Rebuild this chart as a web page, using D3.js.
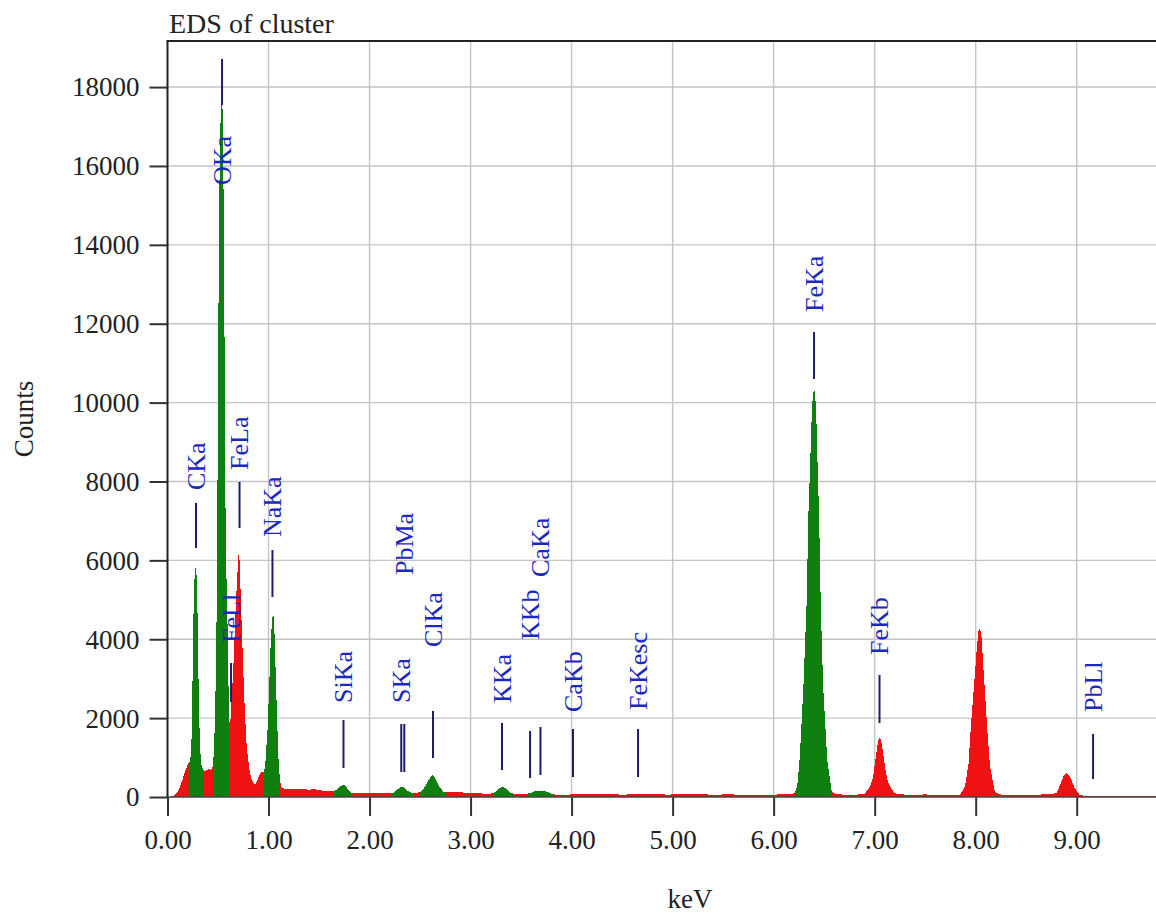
<!DOCTYPE html>
<html>
<head>
<meta charset="utf-8">
<script src="https://cdn.jsdelivr.net/npm/d3@7/dist/d3.min.js"></script>
<style>
  html, body { margin: 0; padding: 0; background: #fff; }
  svg { display: block; }
  text { font-family: "Liberation Serif", "Times New Roman", serif; }
</style>
</head>
<body>
<svg id="chart" width="1156" height="916"></svg>
<script>
// EDS spectrum: [energy keV, counts]
const spectrum = [
  [0.00, 0], [0.02, 0], [0.05, 20], [0.074, 50], [0.10, 140], [0.124, 260], [0.15, 450],
  [0.173, 640], [0.19, 760], [0.206, 850],
  [0.225, 900], [0.236, 1300], [0.244, 2130], [0.252, 3900], [0.26, 5000], [0.27, 5700],
  [0.282, 5880], [0.29, 5500], [0.297, 4660], [0.305, 3300], [0.313, 2130], [0.322, 1300],
  [0.332, 850], [0.35, 720], [0.371, 640],
  [0.39, 680], [0.41, 720], [0.43, 660], [0.45, 800], [0.46, 1190], [0.47, 2000], [0.48, 3300],
  [0.49, 5500], [0.50, 10500], [0.51, 14500], [0.52, 16800], [0.53, 17400], [0.538, 17720],
  [0.548, 17300], [0.556, 15000], [0.566, 11000], [0.575, 7000], [0.585, 5400], [0.595, 4300],
  [0.604, 2800], [0.612, 1870],
  [0.625, 2000], [0.64, 2700], [0.652, 3300], [0.667, 4300], [0.685, 5330], [0.70, 6000],
  [0.708, 6370], [0.72, 5500], [0.734, 4400], [0.751, 3140], [0.767, 2100], [0.784, 1280],
  [0.81, 700], [0.833, 430], [0.866, 300], [0.89, 420], [0.916, 600], [0.935, 650], [0.955, 620],
  [0.97, 900], [0.99, 1700], [1.005, 2700], [1.02, 3800], [1.035, 4500], [1.048, 4660],
  [1.06, 4100], [1.075, 2800], [1.09, 1600], [1.10, 900], [1.114, 400], [1.13, 250],
  [1.16, 210], [1.2, 200], [1.25, 215], [1.3, 190], [1.35, 200], [1.4, 185], [1.45, 200],
  [1.5, 170], [1.55, 160], [1.6, 150], [1.64, 150],
  [1.67, 180], [1.70, 250], [1.73, 300], [1.76, 290], [1.79, 180], [1.82, 110],
  [1.9, 100], [2.0, 95], [2.1, 90], [2.2, 100],
  [2.24, 110], [2.28, 200], [2.31, 260], [2.34, 240], [2.38, 150], [2.42, 100], [2.47, 110],
  [2.52, 150], [2.56, 300], [2.60, 500], [2.625, 560], [2.65, 470], [2.69, 260], [2.73, 140],
  [2.77, 120], [2.85, 125], [2.95, 110], [3.05, 95], [3.15, 85], [3.22, 90],
  [3.26, 150], [3.29, 230], [3.32, 262], [3.35, 220], [3.39, 120], [3.43, 75], [3.5, 75], [3.56, 80],
  [3.60, 110], [3.63, 140], [3.67, 160], [3.72, 155], [3.76, 130], [3.80, 80], [3.85, 55],
  [3.95, 60], [4.05, 70], [4.2, 65], [4.35, 75], [4.5, 60], [4.65, 70], [4.8, 80], [4.95, 60],
  [5.1, 75], [5.25, 70], [5.4, 60], [5.55, 65], [5.7, 60], [5.85, 55], [6.0, 60], [6.1, 70], [6.18, 85],
  [6.21, 100], [6.235, 300], [6.26, 1050], [6.295, 2800], [6.327, 4930], [6.344, 7140], [6.36, 8340],
  [6.38, 9910], [6.40, 10410], [6.42, 9910], [6.436, 8340], [6.45, 7140], [6.466, 4930], [6.49, 2800],
  [6.53, 960], [6.575, 130], [6.62, 70],
  [6.7, 60], [6.8, 55], [6.9, 80],
  [6.95, 250], [6.985, 500], [7.01, 1000], [7.036, 1445], [7.053, 1513], [7.07, 1360], [7.09, 1000],
  [7.11, 650], [7.13, 400], [7.16, 230], [7.2, 94], [7.3, 60],
  [7.4, 55], [7.5, 65], [7.6, 55], [7.7, 60], [7.8, 55], [7.845, 60],
  [7.894, 262], [7.93, 854], [7.95, 1700], [7.983, 2810], [8.01, 3730], [8.026, 4190], [8.043, 4280],
  [8.06, 4010], [8.076, 3270], [8.093, 2620], [8.115, 1700], [8.142, 775], [8.19, 130], [8.25, 60],
  [8.4, 55], [8.55, 60], [8.7, 65], [8.8, 95], [8.835, 300], [8.875, 560], [8.90, 616], [8.934, 515],
  [8.98, 220], [9.03, 50], [9.1, 25], [9.3, 30], [9.5, 25], [9.7, 30], [9.8, 25]
];

// Energy windows of identified peaks (drawn green)
const roiWindows = [
  [0.21, 0.36], [0.46, 0.612], [0.955, 1.114], [1.645, 1.82], [2.22, 2.43],
  [2.50, 2.76], [3.23, 3.42], [3.57, 3.82], [6.21, 6.575]
];

// Element line markers
const lineNames   = ["CKa", "OKa", "FeLl", "FeLa", "NaKa", "SiKa", "SKa", "PbMa", "ClKa",
                     "KKa", "KKb", "CaKa", "CaKb", "FeKesc", "FeKa", "FeKb", "PbLl"];
const lineEnergy  = [0.282, 0.540, 0.629, 0.713, 1.039, 1.742, 2.314, 2.344, 2.628,
                     3.311, 3.589, 3.692, 4.014, 4.658, 6.400, 7.048, 9.162];
const markerLow   = [6313, 17546, 2409, 6821, 5071, 735, 634, 634, 989,
                     685, 482, 558, 507, 507, 10598, 1876, 456];
const markerHigh  = [7454, 18712, 3398, 7987, 6263, 1952, 1851, 1851, 2181,
                     1876, 1673, 1775, 1724, 1724, 11790, 3093, 1597];
const labelBase   = [7784, 15517, 3905, 8291, 6592, 2383, 2383, 5629, 3803,
                     2383, 3981, 5578, 2155, 2206, 12297, 3600, 2155];

const xTicks = [0, 1, 2, 3, 4, 5, 6, 7, 8, 9];
const yTicks = [0, 2000, 4000, 6000, 8000, 10000, 12000, 14000, 16000, 18000];

const W = 1156, H = 916;
const plot = { left: 167.5, top: 41, right: 1156, bottom: 797 };

const svg = d3.select("#chart");
svg.append("rect").attr("width", W).attr("height", H).attr("fill", "#fff");

const x = d3.scaleLinear().domain([0, 9.785]).range([plot.left, plot.right]);
const y = d3.scaleLinear().domain([0, 19168]).range([plot.bottom, plot.top]);

const defs = svg.append("defs");
defs.append("clipPath").attr("id", "plotClip")
  .append("rect")
  .attr("x", plot.left).attr("y", plot.top)
  .attr("width", plot.right - plot.left).attr("height", plot.bottom - plot.top);

const roiClip = defs.append("clipPath").attr("id", "roiClip");
roiWindows.forEach(([a, b]) => {
  roiClip.append("rect")
    .attr("x", x(a)).attr("y", plot.top)
    .attr("width", x(b) - x(a)).attr("height", plot.bottom - plot.top);
});

// grid
const grid = svg.append("g").attr("stroke", "#c4c4c4").attr("stroke-width", 1.4);
xTicks.filter(d => d > 0).forEach(d => {
  grid.append("line").attr("x1", x(d)).attr("x2", x(d)).attr("y1", plot.top).attr("y2", plot.bottom);
});
yTicks.filter(d => d > 0).forEach(d => {
  grid.append("line").attr("x1", plot.left).attr("x2", plot.right).attr("y1", y(d)).attr("y2", y(d));
});

// spectrum
const area = d3.area()
  .x(d => x(d[0]))
  .y0(y(0))
  .y1(d => y(d[1]));

const dataLayer = svg.append("g").attr("clip-path", "url(#plotClip)");
dataLayer.append("path").datum(spectrum).attr("d", area)
  .attr("fill", "#f01212").attr("shape-rendering", "crispEdges");
dataLayer.append("g").attr("clip-path", "url(#roiClip)")
  .append("path").datum(spectrum).attr("d", area)
  .attr("fill", "#0f800f").attr("shape-rendering", "crispEdges");

// axes
const xAxis = d3.axisBottom(x).tickValues(xTicks).tickFormat(d3.format(".2f"))
  .tickSizeInner(19).tickSizeOuter(0).tickPadding(14);
const gx = svg.append("g").attr("transform", `translate(0,${plot.bottom})`).call(xAxis);
const yAxis = d3.axisLeft(y).tickValues(yTicks).tickFormat(d3.format("d"))
  .tickSizeInner(18).tickSizeOuter(0).tickPadding(10);
const gy = svg.append("g").attr("transform", `translate(${plot.left},0)`).call(yAxis);

[gx, gy].forEach(g => {
  g.select(".domain").remove();
  g.selectAll(".tick line").attr("stroke", "#333").attr("stroke-width", 2);
  g.selectAll(".tick text").attr("fill", "#222").style("font-size", "27px")
    .style("font-family", '"Liberation Serif", serif');
});
gy.selectAll(".tick text").attr("dy", "0.33em");

// frame lines
svg.append("line").attr("x1", plot.left).attr("x2", plot.left)
  .attr("y1", plot.top).attr("y2", plot.bottom + 1)
  .attr("stroke", "#222").attr("stroke-width", 2);
svg.append("line").attr("x1", plot.left - 1).attr("x2", plot.right)
  .attr("y1", plot.top).attr("y2", plot.top)
  .attr("stroke", "#222").attr("stroke-width", 2);
svg.append("line").attr("x1", plot.left).attr("x2", plot.right)
  .attr("y1", plot.bottom).attr("y2", plot.bottom)
  .attr("stroke", "#444").attr("stroke-width", 1.5);

// element markers
const markers = svg.append("g");
lineNames.forEach((name, i) => {
  const px = x(lineEnergy[i]);
  markers.append("line")
    .attr("x1", px).attr("x2", px)
    .attr("y1", y(markerLow[i])).attr("y2", y(markerHigh[i]))
    .attr("stroke", "#1c1c70").attr("stroke-width", 2);
  markers.append("text")
    .attr("transform", `translate(${px},${y(labelBase[i])}) rotate(-90)`)
    .attr("dy", "0.34em")
    .attr("fill", "#1a28c0")
    .style("font-size", "26px")
    .text(name);
});

// titles
svg.append("text").attr("x", 169).attr("y", 33)
  .attr("fill", "#222").style("font-size", "28px").text("EDS of cluster");
svg.append("text")
  .attr("transform", `translate(33,${(plot.top + plot.bottom) / 2}) rotate(-90)`)
  .attr("text-anchor", "middle").attr("fill", "#222").style("font-size", "27px").text("Counts");
svg.append("text").attr("x", 690).attr("y", 908).attr("text-anchor", "middle")
  .attr("fill", "#222").style("font-size", "27px").text("keV");
</script>
</body>
</html>
